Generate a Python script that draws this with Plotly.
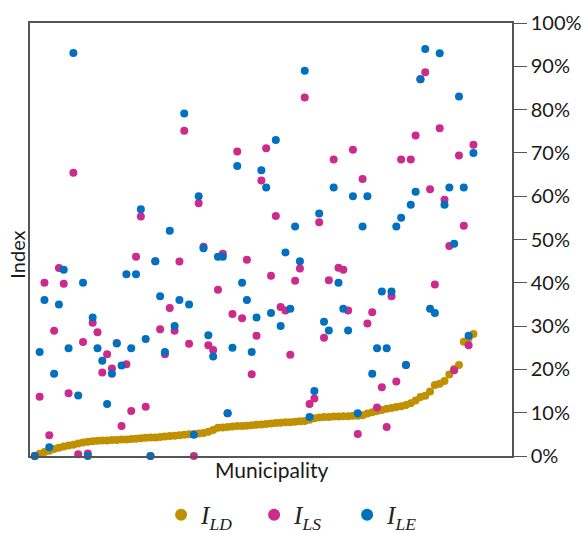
import plotly.graph_objects as go

# Index values (fractions) for each municipality, ordered by I_LD
municipality = list(range(1, 93))

i_ld = [0.000, 0.005, 0.009, 0.012, 0.016, 0.019, 0.022, 0.024, 0.026, 0.029,
        0.031, 0.033, 0.034, 0.035, 0.036, 0.036, 0.037, 0.037, 0.038, 0.038,
        0.039, 0.040, 0.041, 0.042, 0.043, 0.043, 0.044, 0.045, 0.046, 0.047,
        0.048, 0.049, 0.050, 0.051, 0.052, 0.053, 0.056, 0.060, 0.065, 0.066,
        0.067, 0.068, 0.069, 0.069, 0.070, 0.071, 0.072, 0.073, 0.074, 0.075,
        0.076, 0.077, 0.078, 0.078, 0.079, 0.080, 0.081, 0.084, 0.087, 0.089,
        0.090, 0.090, 0.091, 0.091, 0.092, 0.092, 0.093, 0.093, 0.094, 0.098,
        0.101, 0.104, 0.106, 0.109, 0.111, 0.113, 0.115, 0.118, 0.122, 0.128,
        0.136, 0.139, 0.149, 0.164, 0.167, 0.173, 0.188, 0.201, 0.210, 0.264,
        0.272, 0.282]

i_ls = [0.000, 0.137, 0.400, 0.048, 0.289, 0.434, 0.398, 0.145, 0.654, 0.004,
        0.263, 0.006, 0.308, 0.286, 0.193, 0.235, 0.202, 0.261, 0.069, 0.212,
        0.104, 0.460, 0.553, 0.114, 0.000, 0.450, 0.293, 0.235, 0.342, 0.289,
        0.449, 0.751, 0.259, 0.000, 0.584, 0.483, 0.256, 0.245, 0.384, 0.467,
        0.099, 0.328, 0.703, 0.318, 0.453, 0.189, 0.278, 0.636, 0.711, 0.416,
        0.554, 0.344, 0.336, 0.234, 0.405, 0.433, 0.828, 0.120, 0.133, 0.540,
        0.273, 0.406, 0.685, 0.435, 0.430, 0.336, 0.707, 0.051, 0.640, 0.306,
        0.332, 0.112, 0.159, 0.067, 0.369, 0.172, 0.685, 0.210, 0.685, 0.740,
        0.870, 0.886, 0.616, 0.396, 0.757, 0.592, 0.485, 0.198, 0.694, 0.532,
        0.256, 0.719]

i_le = [0.000, 0.240, 0.360, 0.020, 0.190, 0.350, 0.430, 0.249, 0.931, 0.140,
        0.400, 0.000, 0.320, 0.249, 0.220, 0.120, 0.190, 0.260, 0.209, 0.420,
        0.249, 0.420, 0.570, 0.270, 0.000, 0.450, 0.369, 0.240, 0.520, 0.300,
        0.360, 0.791, 0.350, 0.049, 0.600, 0.480, 0.279, 0.230, 0.460, 0.460,
        0.099, 0.250, 0.670, 0.400, 0.360, 0.240, 0.320, 0.660, 0.620, 0.330,
        0.730, 0.300, 0.470, 0.340, 0.530, 0.450, 0.890, 0.090, 0.150, 0.560,
        0.310, 0.290, 0.620, 0.400, 0.340, 0.290, 0.600, 0.099, 0.530, 0.600,
        0.190, 0.249, 0.380, 0.249, 0.380, 0.530, 0.550, 0.210, 0.580, 0.610,
        0.870, 0.940, 0.340, 0.330, 0.930, 0.580, 0.620, 0.490, 0.830, 0.620,
        0.278, 0.700]

y_ticks = [0, 0.1, 0.2, 0.3, 0.4, 0.5, 0.6, 0.7, 0.8, 0.9, 1.0]
y_tick_labels = ["0%", "10%", "20%", "30%", "40%", "50%", "60%", "70%", "80%", "90%", "100%"]

series = [
    ("<i>I</i><sub><i>LD</i></sub>", i_ld, "#BF9000"),
    ("<i>I</i><sub><i>LS</i></sub>", i_ls, "#CC2A8C"),
    ("<i>I</i><sub><i>LE</i></sub>", i_le, "#0070C0"),
]

fig = go.Figure()
for name, values, color in series:
    fig.add_trace(go.Scatter(
        x=municipality, y=values, mode="markers", name=name,
        marker=dict(size=8, color=color, line=dict(width=0)),
        cliponaxis=False,
    ))

axis_color = "#555555"
fig.update_layout(
    width=583, height=533,
    margin=dict(l=30, r=71, t=23, b=77, autoexpand=False),
    paper_bgcolor="white", plot_bgcolor="white",
    showlegend=True,
    legend=dict(
        orientation="h", x=0.272, xanchor="left", y=-0.136, yanchor="middle",
        font=dict(family="Liberation Serif", size=25, color="#222222"),
        itemsizing="constant", entrywidth=48, tracegroupgap=0,
    ),
    xaxis=dict(
        range=[0, 100], showticklabels=False, ticks="", showgrid=False,
        zeroline=False, showline=True, linecolor=axis_color, linewidth=1.5,
        mirror=True, automargin=False,
    ),
    yaxis=dict(
        range=[0, 1], side="right", tickvals=y_ticks, ticktext=y_tick_labels,
        ticks="outside", ticklen=13, tickwidth=1.2, tickcolor=axis_color,
        showgrid=False, zeroline=False, showline=True, linecolor=axis_color,
        linewidth=1.5, mirror=True, automargin=False,
        tickfont=dict(family="Lato", size=20, color="#1a1a1a"),
    ),
    annotations=[
        dict(text="Municipality", xref="paper", yref="paper", x=0.502, y=-0.032,
             xanchor="center", yanchor="middle", showarrow=False,
             font=dict(family="Lato", size=21, color="#1a1a1a")),
        dict(text="Index", xref="paper", yref="paper", x=-0.027, y=0.465,
             xanchor="center", yanchor="middle", showarrow=False, textangle=-90,
             font=dict(family="Lato", size=20, color="#1a1a1a")),
    ],
)

fig.write_html("out.html")
